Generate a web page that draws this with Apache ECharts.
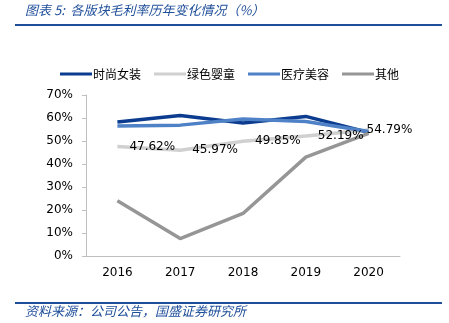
<!DOCTYPE html>
<html>
<head>
<meta charset="utf-8">
<script src="https://cdn.jsdelivr.net/npm/echarts@6/dist/echarts.min.js"></script>
<style>
  html, body { margin: 0; padding: 0; background: #fff; }
  #chart { width: 449px; height: 323px; }
</style>
</head>
<body>
<div id="chart"></div>
<script>
// Gross margin by business segment, 2016-2020 (%)
const years = ['2016', '2017', '2018', '2019', '2020'];
const fashion = [58.3, 61.1, 57.8, 60.7, 53.7];      // 时尚女装
const greenKids = [47.62, 45.97, 49.85, 52.19, 54.79]; // 绿色婴童
const medical = [56.5, 56.9, 59.6, 58.5, 54.1];      // 医疗美容
const others = [24.0, 7.6, 18.5, 43.0, 53.3];        // 其他
const yTicks = { min: 0, max: 70, interval: 10 };

const FONT = 'DejaVu Sans';
const CJK = '"Noto Sans CJK SC"';
const TITLE_BLUE = '#1f4e9a';

const chart = echarts.init(document.getElementById('chart'), null, { renderer: 'canvas' });

function lineSeries(name, data, color, extra) {
  return Object.assign({
    name: name,
    type: 'line',
    data: data,
    symbol: 'none',
    lineStyle: { width: 3.5, color: color },
    itemStyle: { color: color },
    emphasis: { disabled: true },
    animation: false
  }, extra || {});
}

const greenLabelData = greenKids.map((v, i) => ({
  value: v,
  label: i === greenKids.length - 1 ? { distance: -2 } : {}
}));

chart.setOption({
  animation: false,
  grid: { left: 86, right: 49, top: 95, bottom: 67 },
  legend: {
    left: 55,
    top: 63,
    itemWidth: 32,
    itemHeight: 3,
    itemGap: 13,
    icon: 'rect',
    textStyle: { fontFamily: CJK, fontSize: 12, color: '#000', padding: [0, 0, 0, -4] },
    data: ['时尚女装', '绿色婴童', '医疗美容', '其他']
  },
  xAxis: {
    type: 'category',
    data: years,
    boundaryGap: true,
    axisLine: { lineStyle: { color: '#bfbfbf', width: 1 } },
    axisTick: { inside: true, length: 5, lineStyle: { color: '#bfbfbf' } },
    axisLabel: { fontFamily: FONT, fontSize: 12, color: '#000', margin: 11 },
    splitLine: { show: false }
  },
  yAxis: {
    type: 'value',
    min: yTicks.min,
    max: yTicks.max,
    interval: yTicks.interval,
    axisLine: { show: true, lineStyle: { color: '#bfbfbf', width: 1 } },
    axisTick: { show: true, inside: false, length: 4, lineStyle: { color: '#bfbfbf' } },
    axisLabel: { fontFamily: FONT, fontSize: 12, color: '#000', margin: 13, formatter: '{value}%' },
    splitLine: { show: false }
  },
  series: [
    lineSeries('时尚女装', fashion, '#0b3c8f'),
    lineSeries('绿色婴童', greenLabelData, '#d0d0d0', {
      // invisible symbols carry the value labels
      symbol: 'circle',
      symbolSize: 0,
      showSymbol: true,
      label: {
        show: true,
        position: 'right',
        distance: 12,
        fontFamily: FONT,
        fontSize: 12,
        color: '#000',
        formatter: p => p.value.toFixed(2) + '%'
      },
      z: 3
    }),
    lineSeries('医疗美容', medical, '#4f81c6'),
    lineSeries('其他', others, '#969696')
  ],
  graphic: [
    {
      type: 'text', left: 25, top: 4,
      style: {
        text: '图表 5:  各版块毛利率历年变化情况（%）',
        fontFamily: CJK, fontSize: 13, fontStyle: 'italic', fill: TITLE_BLUE
      }
    },
    {
      type: 'line',
      shape: { x1: 15, y1: 25, x2: 442, y2: 25 },
      style: { stroke: TITLE_BLUE, lineWidth: 2 }
    },
    {
      type: 'line',
      shape: { x1: 15, y1: 303, x2: 442, y2: 303 },
      style: { stroke: TITLE_BLUE, lineWidth: 2 }
    },
    {
      type: 'text', left: 25, top: 305,
      style: {
        text: '资料来源：公司公告，国盛证券研究所',
        fontFamily: CJK, fontSize: 13, fontStyle: 'italic', fill: TITLE_BLUE
      }
    }
  ]
});
</script>
</body>
</html>
